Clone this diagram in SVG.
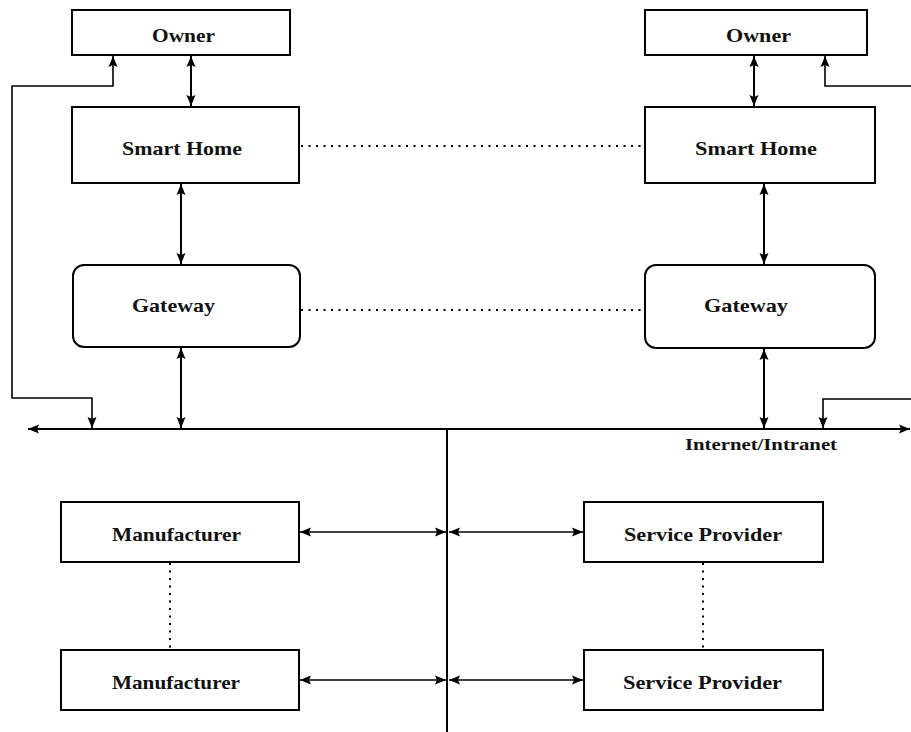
<svg xmlns="http://www.w3.org/2000/svg" width="911" height="732" viewBox="0 0 911 732">
  <style>
    .box { fill: #fff; stroke: #000; stroke-width: 2; }
    .lbl { font-family: "Liberation Serif", "Times New Roman", serif; font-weight: bold; font-size: 19px; fill: #111; }
    .ln { fill: none; stroke: #000; stroke-width: 2; }
    .thin { fill: none; stroke: #000; stroke-width: 1.6; }
    .dot { fill: none; stroke: #000; stroke-width: 2; stroke-dasharray: 2 5.5; }
    .arr { marker-start: url(#ah); marker-end: url(#ah); }
    .end { marker-end: url(#ah); }
  </style>
  <defs>
    <marker id="ah" markerUnits="userSpaceOnUse" markerWidth="12" markerHeight="10" refX="11" refY="5" orient="auto-start-reverse">
      <path d="M0,0.5 L11,5 L0,9.5 L2,5 Z" fill="#000"/>
    </marker>
  </defs>
  <rect width="911" height="732" fill="#fff"/>

  <g id="connectors">
    <!-- left stack -->
    <line class="ln arr" x1="191" y1="56" x2="191" y2="106"/>
    <line class="ln arr" x1="181" y1="184" x2="181" y2="264"/>
    <line class="ln arr" x1="181" y1="348" x2="181" y2="428"/>
    <path class="thin arr" d="M113,56 L113,86 L12,86 L12,398 L92,398 L92,428"/>
    <!-- right stack -->
    <line class="ln arr" x1="754" y1="56" x2="754" y2="106"/>
    <line class="ln arr" x1="764" y1="184" x2="764" y2="264"/>
    <line class="ln arr" x1="764" y1="349" x2="764" y2="428"/>
    <path class="thin end" d="M911,86 L825,86 L825,56"/>
    <path class="thin end" d="M911,399 L823,399 L823,428"/>
    <!-- network bus and trunk -->
    <line class="ln arr" x1="28" y1="429" x2="910" y2="429"/>
    <line class="ln" x1="447" y1="429" x2="447" y2="732"/>
    <!-- peer links -->
    <line class="dot" x1="301" y1="146" x2="645" y2="146"/>
    <line class="dot" x1="301" y1="310" x2="645" y2="310"/>
    <line class="dot" x1="170" y1="563" x2="170" y2="650"/>
    <line class="dot" x1="703" y1="563" x2="703" y2="650"/>
    <!-- branches off the trunk -->
    <line class="thin arr" x1="300" y1="532" x2="446" y2="532"/>
    <line class="thin arr" x1="449" y1="532" x2="583" y2="532"/>
    <line class="thin arr" x1="300" y1="680" x2="446" y2="680"/>
    <line class="thin arr" x1="449" y1="680" x2="583" y2="680"/>
  </g>

  <g id="owner-left">
    <rect class="box" x="72" y="10" width="218" height="45"/>
    <text class="lbl" x="152" y="42" textLength="63" lengthAdjust="spacingAndGlyphs">Owner</text>
  </g>
  <g id="smarthome-left">
    <rect class="box" x="72" y="107" width="227" height="76"/>
    <text class="lbl" x="122" y="155" textLength="120" lengthAdjust="spacingAndGlyphs">Smart Home</text>
  </g>
  <g id="gateway-left">
    <rect class="box" x="73" y="265" width="227" height="82" rx="11"/>
    <text class="lbl" x="132" y="312" textLength="83" lengthAdjust="spacingAndGlyphs">Gateway</text>
  </g>

  <g id="owner-right">
    <rect class="box" x="645" y="10" width="222" height="45"/>
    <text class="lbl" x="726" y="42" textLength="65" lengthAdjust="spacingAndGlyphs">Owner</text>
  </g>
  <g id="smarthome-right">
    <rect class="box" x="645" y="107" width="230" height="76"/>
    <text class="lbl" x="695" y="155" textLength="122" lengthAdjust="spacingAndGlyphs">Smart Home</text>
  </g>
  <g id="gateway-right">
    <rect class="box" x="645" y="265" width="230" height="83" rx="11"/>
    <text class="lbl" x="704" y="312" textLength="84" lengthAdjust="spacingAndGlyphs">Gateway</text>
  </g>

  <g id="network-label">
    <text class="lbl" x="685" y="450" textLength="152" lengthAdjust="spacingAndGlyphs" style="font-size:17px">Internet/Intranet</text>
  </g>

  <g id="manufacturer-1">
    <rect class="box" x="61" y="502" width="238" height="60"/>
    <text class="lbl" x="112" y="541" textLength="129" lengthAdjust="spacingAndGlyphs">Manufacturer</text>
  </g>
  <g id="manufacturer-2">
    <rect class="box" x="61" y="650" width="238" height="60"/>
    <text class="lbl" x="112" y="689" textLength="128" lengthAdjust="spacingAndGlyphs">Manufacturer</text>
  </g>
  <g id="provider-1">
    <rect class="box" x="584" y="502" width="239" height="60"/>
    <text class="lbl" x="624" y="541" textLength="158" lengthAdjust="spacingAndGlyphs">Service Provider</text>
  </g>
  <g id="provider-2">
    <rect class="box" x="584" y="650" width="239" height="60"/>
    <text class="lbl" x="623" y="689" textLength="159" lengthAdjust="spacingAndGlyphs">Service Provider</text>
  </g>
</svg>
